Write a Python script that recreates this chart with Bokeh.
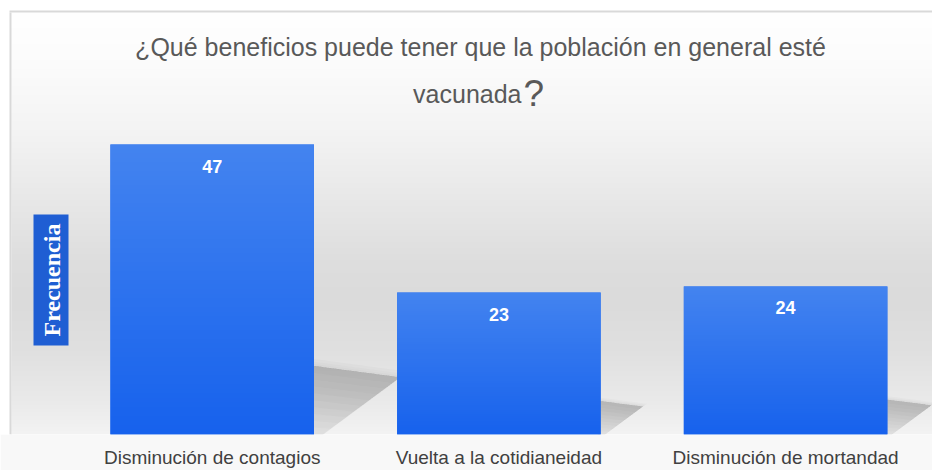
import numpy as np
from bokeh.plotting import figure
from bokeh.models import Range1d, FixedTicker
from bokeh.core.properties import value
from bokeh.embed import file_html
from bokeh.resources import INLINE

# ---------------- data ----------------
categories = ["Disminución de contagios", "Vuelta a la cotidianeidad", "Disminución de mortandad"]
frecuencias = [47, 23, 24]
title_line1 = "¿Qué beneficios puede tener que la población en general esté"
title_line2 = "vacunada"
title_mark = "?"
y_label = "Frecuencia"

# ---------------- layout constants (pixels) ----------------
W, H = 932, 470
FRAME_H = 434          # frame bottom = bar baseline
PXX = 286.7            # px per category step
BAR0_X = 211.7         # px of first bar centre
PXY = 290 / 47.0       # px per unit of frequency
BAR_W = 0.71

x_start = -BAR0_X / PXX
x_end = x_start + W / PXX
y_end = FRAME_H / PXY


def dx(px):
    return x_start + px / PXX


def dy(py):
    return (FRAME_H - py) / PXY


FONT = "Liberation Sans"

p = figure(width=W, height=H, output_backend="svg", toolbar_location=None,
           x_range=Range1d(x_start, x_end), y_range=Range1d(0, y_end),
           y_axis_location=None, min_border_left=0, min_border_right=0,
           min_border_top=0, min_border_bottom=H - FRAME_H,
           border_fill_color="#f8f8f8", outline_line_color=None,
           background_fill_color="#ffffff")
p.xgrid.visible = False
p.ygrid.visible = False

# ---------------- background gradient ----------------
stops_y = [12, 60, 130, 200, 260, 300, 350, 400, 434]
stops_g = [255, 252, 244, 232, 222, 219, 224, 234, 243]
N = FRAME_H - 12
rows_py = FRAME_H - (np.arange(N) + 0.5)
gray = np.interp(rows_py, stops_y, stops_g).astype(np.uint8)
bg = np.zeros((N, 1), dtype=np.uint32)
bv = bg.view(np.uint8).reshape((N, 1, 4))
bv[:, 0, 0] = gray
bv[:, 0, 1] = gray
bv[:, 0, 2] = gray
bv[:, 0, 3] = 255
p.image_rgba(image=[bg], x=dx(11), y=0, dw=x_end - dx(11), dh=dy(12))

# chart-area frame (white margin + grey border on top and left)
p.quad(left=[x_start, x_start], right=[x_end, dx(9)], top=[y_end, dy(10)], bottom=[dy(10), 0],
       fill_color="white", line_color=None)
p.quad(left=[dx(9), dx(9)], right=[x_end, dx(11)], top=[dy(10), dy(12)], bottom=[dy(12), 0],
       fill_color="#d9d9d9", line_color=None)

# ---------------- cast shadows (darkest at the top edge, fading to the base) ----------------
xs_all, ys_all = [], []
LAYERS = 10
for i, v in enumerate(frecuencias):
    R = i + BAR_W / 2
    h_px = v * PXY
    A = (R - 0.01, 0.238 * v)
    B = (R + 0.297 * h_px / PXX, 0.197 * v)
    C = (R + 0.03 * h_px / PXX, 0.0)
    D = (R - 0.01, 0.0)
    for k in range(LAYERS):
        g = (k + 1) / LAYERS
        Bk = (B[0] + g * (C[0] - B[0]), B[1] + g * (C[1] - B[1]))
        Ak = (A[0] + g * (D[0] - A[0]), A[1] + g * (D[1] - A[1]))
        xs_all.append([A[0], B[0], Bk[0], Ak[0]])
        ys_all.append([A[1], B[1], Bk[1], Ak[1]])
    # soft halo around the shadow
    for f in (1.03, 1.06, 1.10):
        xs_all.append([R + (q[0] - R) * f for q in (A, B, C, D)])
        ys_all.append([q[1] * f for q in (A, B, C, D)])
p.patches(xs=xs_all, ys=ys_all, fill_color="#555555", fill_alpha=0.032, line_color=None)

# ---------------- bars ----------------
idx = list(range(len(categories)))
p.vbar(x=idx, top=frecuencias, width=BAR_W, bottom=0, fill_color="#2a70ef", line_color=None)

M = 64
t = (np.arange(M) + 0.5) / M
bottom_c = np.array([0x17, 0x62, 0xED])
top_c = np.array([0x44, 0x84, 0xF0])
cols = (bottom_c[None, :] * (1 - t[:, None]) + top_c[None, :] * t[:, None]).astype(np.uint8)
bimg = np.zeros((M, 1), dtype=np.uint32)
biv = bimg.view(np.uint8).reshape((M, 1, 4))
biv[:, 0, :3] = cols
biv[:, 0, 3] = 255
p.image_rgba(image=[bimg] * len(idx), x=[i - BAR_W / 2 for i in idx], y=[0] * len(idx),
             dw=[BAR_W] * len(idx), dh=frecuencias)

p.text(x=idx, y=frecuencias, text=[str(v) for v in frecuencias], text_align="center",
       text_baseline="top", y_offset=15, text_font=value(FONT), text_font_style="bold",
       text_font_size="18px", text_color="white")

# ---------------- title ----------------
p.text(x=[dx(480)], y=[dy(46)], text=[title_line1], text_align="center", text_baseline="middle",
       text_font=value(FONT), text_font_size="25px", text_color="#595959")
p.text(x=[dx(521)], y=[dy(93)], text=[title_line2], text_align="right", text_baseline="alphabetic",
       text_font=value(FONT), text_font_size="25px", text_color="#595959")
p.text(x=[dx(523)], y=[dy(93)], text=[title_mark], text_align="left", text_baseline="alphabetic",
       text_font=value(FONT), text_font_size="37px", text_color="#595959")

# ---------------- y label box ----------------
p.rect(x=[dx(50.5)], y=[dy(279.5)], width=35, height=131, width_units="screen",
       height_units="screen", fill_color="#1f5ed3", line_color=None)
p.text(x=[dx(51)], y=[dy(279.5)], text=[y_label], angle=np.pi / 2, text_align="center",
       text_baseline="middle", text_font=value("Liberation Serif"), text_font_style="bold",
       text_font_size="24px", text_color="white")

# ---------------- x axis ----------------
p.xaxis.ticker = FixedTicker(ticks=idx)
p.xaxis.major_label_overrides = {i: c for i, c in enumerate(categories)}
p.xaxis.axis_line_color = None
p.xaxis.major_tick_line_color = None
p.xaxis.minor_tick_line_color = None
p.xaxis.major_tick_out = 0
p.xaxis.major_tick_in = 0
p.xaxis.minor_tick_out = 0
p.xaxis.major_label_standoff = 12
p.xaxis.major_label_text_font = FONT
p.xaxis.major_label_text_font_size = "19px"
p.xaxis.major_label_text_color = "#404040"

open("out.html", "w").write(file_html(p, INLINE))
